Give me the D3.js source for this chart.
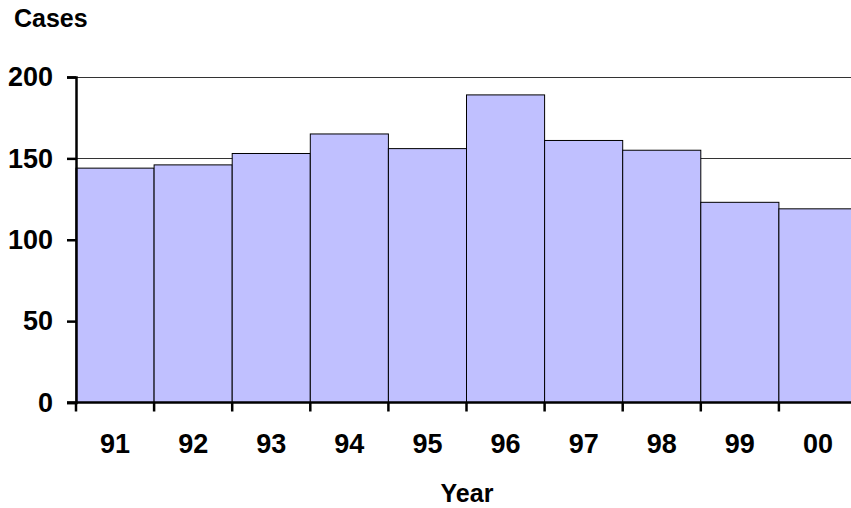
<!DOCTYPE html>
<html>
<head>
<meta charset="utf-8">
<script src="https://cdn.jsdelivr.net/npm/d3@7"></script>
<style>
  body { margin: 0; background: #fff; }
  text { font-family: "Liberation Sans", Arial, sans-serif; font-weight: bold; fill: #000; }
</style>
</head>
<body>
<div class="container"></div>
<script>
// cases per year
var years = ['91', '92', '93', '94', '95', '96', '97', '98', '99', '00'];
var cases = [144, 146, 153, 165, 156, 189, 161, 155, 123, 119];
var yTicks = [0, 50, 100, 150, 200];
var gridTicks = [150, 200];

var chart = {
  width: 851,
  height: 508,
  left: 76,
  right: 857,
  top: 77,
  bottom: 402.5
};

var svg = d3.select('.container').append('svg')
            .attr('width', chart.width)
            .attr('height', chart.height);

var x = d3.scaleBand().domain(years).range([chart.left, chart.right]).padding(0);
var y = d3.scaleLinear().domain([0, 200]).range([chart.bottom, chart.top]);

// gridlines behind the bars
svg.selectAll('line.grid')
   .data(gridTicks)
   .enter()
   .append('line')
   .attr('class', 'grid')
   .attr('x1', chart.left).attr('x2', chart.right)
   .attr('y1', function(d){ return Math.round(y(d)) + 0.5; })
   .attr('y2', function(d){ return Math.round(y(d)) + 0.5; })
   .attr('stroke', '#333')
   .attr('stroke-width', 1);

svg.selectAll('rect.bar')
   .data(cases)
   .enter()
   .append('rect')
   .attr('class', 'bar')
   .attr('x', function(d, i){ return x(years[i]); })
   .attr('y', function(d){ return y(d); })
   .attr('width', x.bandwidth())
   .attr('height', function(d){ return chart.bottom - y(d); })
   .attr('fill', '#c0c0ff')
   .attr('stroke', '#000')
   .attr('stroke-width', 1);

// y axis
var yAxis = svg.append('g')
               .attr('transform', 'translate(' + chart.left + ',0)')
               .call(d3.axisLeft(y).tickValues(yTicks).tickSize(9).tickPadding(14));
yAxis.select('.domain').attr('stroke', '#000').attr('stroke-width', 2.5);
yAxis.selectAll('.tick line').attr('stroke', '#000').attr('stroke-width', 2.5);
yAxis.selectAll('.tick text').attr('font-size', 27).attr('font-family', null);

// x axis
var xAxis = svg.append('g')
               .attr('transform', 'translate(0,' + chart.bottom + ')')
               .call(d3.axisBottom(x).tickSize(0).tickPadding(31));
xAxis.select('.domain').remove();
xAxis.append('line')
     .attr('x1', chart.left - 9).attr('x2', chart.right)
     .attr('stroke', '#000').attr('stroke-width', 2.5);
xAxis.selectAll('.tick text').attr('font-size', 27).attr('font-family', null);

// tick marks at the bar edges
var edges = years.map(function(d){ return x(d); });
xAxis.selectAll('line.edge')
     .data(edges)
     .enter()
     .append('line')
     .attr('class', 'edge')
     .attr('x1', function(d){ return d; })
     .attr('x2', function(d){ return d; })
     .attr('y1', 0).attr('y2', 9)
     .attr('stroke', '#000').attr('stroke-width', 2.5);

svg.append('text')
   .attr('x', 14).attr('y', 26.5)
   .attr('font-size', 25)
   .text('Cases');

svg.append('text')
   .attr('x', 467).attr('y', 502)
   .attr('text-anchor', 'middle')
   .attr('font-size', 25)
   .text('Year');
</script>
</body>
</html>
